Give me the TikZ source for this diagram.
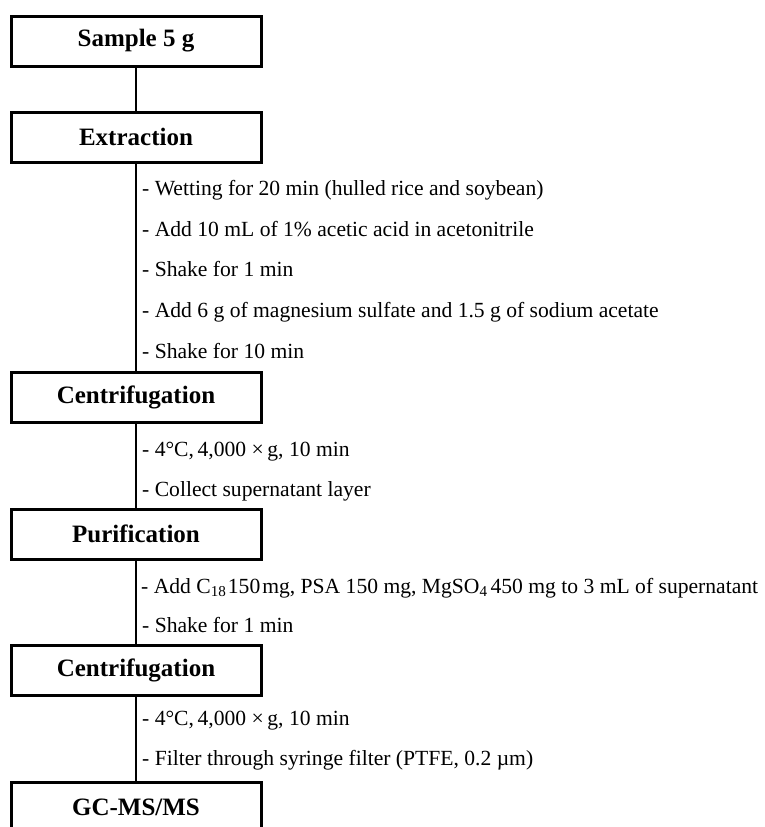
\documentclass[tikz,border=0pt]{standalone}
\usepackage{fontspec}
\setmainfont{Liberation Serif}
\usetikzlibrary{positioning}

\tikzset{
  stagebox/.style={draw, line width=3pt, minimum width=250pt, minimum height=50pt,
    inner sep=0pt, font=\fontsize{25}{29}\selectfont\bfseries},
  notetext/.style={anchor=base west, inner sep=0pt, font=\fontsize{21.6}{25}\selectfont},
  flowline/.style={line width=2.4pt}
}

\begin{document}
\begin{tikzpicture}[x=1pt,y=-1pt]
  \useasboundingbox (0,0) rectangle (765,827);
  \clip (0,0) rectangle (765,827);

  % stages
  \node[stagebox] (sample) at (136,41) {Sample 5 g};
  \node[stagebox] (extract) at (136,137) {Extraction};
  \node[stagebox] (centri) at (136,397) {Centrifugation};
  \node[stagebox] (purif) at (136,534) {Purification};
  \node[stagebox] (centrib) at (136,670) {Centrifugation};
  \node[stagebox] (gcms) at (136,807) {GC-MS/MS};

  % connectors
  \draw[flowline] (sample) -- (extract);
  \draw[flowline] (extract) -- (centri);
  \draw[flowline] (centri) -- (purif);
  \draw[flowline] (purif) -- (centrib);
  \draw[flowline] (centrib) -- (gcms);

  % notes
  \node[notetext] (ex1) at (142,195) {- Wetting for 20 min (hulled rice and soybean)};
  \node[notetext] (ex2) at (142,236) {- Add 10 mL of 1\% acetic acid in acetonitrile};
  \node[notetext] (ex3) at (142,276) {- Shake for 1 min};
  \node[notetext] (ex4) at (142,317) {- Add 6 g of magnesium sulfate and 1.5 g of sodium acetate};
  \node[notetext] (ex5) at (142,358) {- Shake for 10 min};

  \node[notetext] (ce1) at (142,456) {- 4°C,\,4,000 ×\,g, 10 min};
  \node[notetext] (ce2) at (142,496) {- Collect supernatant layer};

  \node[notetext] (pu1) at (141,593) {- Add C\textsubscript{18}\hspace{1.5pt}150\hspace{2pt}mg, PSA 150 mg, MgSO\textsubscript{4}\hspace{3pt}450 mg to 3 mL of supernatant};
  \node[notetext] (pu2) at (142,632) {- Shake for 1 min};

  \node[notetext] (cb1) at (142,725) {- 4°C,\,4,000 ×\,g, 10 min};
  \node[notetext] (cb2) at (142,765) {- Filter through syringe filter (PTFE, 0.2 µm)};
\end{tikzpicture}
\end{document}
